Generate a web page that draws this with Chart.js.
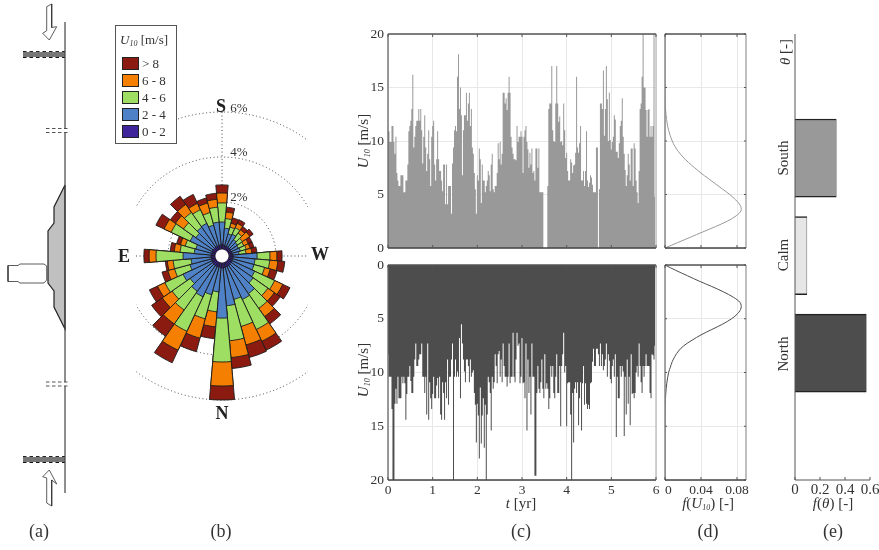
<!DOCTYPE html>
<html>
<head>
<meta charset="utf-8">
<style>
  html, body { margin: 0; padding: 0; background: #fff; }
  #page { position: relative; width: 879px; height: 550px; overflow: hidden; font-family: "Liberation Serif", serif; color: #333; }
  canvas { position: absolute; }
  .lab { position: absolute; transform: translate(-50%, -50%); white-space: nowrap; font-size: 15px; line-height: 1; }
  .rot { transform: translate(-50%, -50%) rotate(-90deg); }
  .dir { font-size: 18px; font-weight: bold; color: #222; }
  .pan { font-size: 18px; }
  .pct { font-size: 13px; }
  sub { font-size: 8px; vertical-align: -2px; line-height: 0; }
  #legend { position: absolute; left: 115px; top: 25px; width: 60px; height: 117px; border: 1px solid #555; background: #fff; }
  #legendInner { position: absolute; left: 0; top: 0; width: 60px; height: 117px; will-change: transform; }
  .sw { position: absolute; left: 6px; width: 15px; height: 11px; border: 1px solid #222; }
  .swt { position: absolute; left: 26px; font-size: 13px; line-height: 13px; }
</style>
</head>
<body>
<div id="page">
  <canvas id="coast" width="110" height="550" style="left:0;top:0"></canvas>
  <canvas id="rose" width="312" height="312" style="left:66px;top:100px"></canvas>
  <canvas id="southSeries"></canvas>
  <canvas id="northSeries"></canvas>
  <canvas id="southPdf"></canvas>
  <canvas id="northPdf"></canvas>
  <canvas id="thetaBars"></canvas>
  <div id="legend"><div id="legendInner"></div></div>
  <div id="labels"></div>
</div>
<script src="https://cdn.jsdelivr.net/npm/chart.js@4"></script>
<script>
// Wind rose, cumulative % per 10 degree sector, clockwise from the top (S)
const below2 = [.12,.08,.06,.07,.05,.06,.05,.05,.06,.1,.09,.08,.1,.09,.11,.12,.1,.12,.14,.1,.1,.12,.11,.1,.1,.08,.08,.09,.07,.06,.08,.07,.08,.08,.07,.08];
const below4 = [1.11,.84,.62,.67,.49,.44,.4,.44,.36,1.16,1.07,1.07,1.2,1.29,1.64,1.73,1.6,1.82,2.36,1.2,1.38,1.6,1.51,1.33,1.51,1.07,.98,1.33,.84,.8,1.16,1.02,1.16,1.2,1.02,1.11];
const below6 = [1.96,1.27,.93,.98,.84,.71,.67,.71,.67,1.73,1.73,1.56,2.18,2.09,2.44,3.2,2.84,3.38,4.31,2.09,2.49,3.29,2.53,2.31,2.4,1.78,1.78,2.53,1.47,1.29,2.09,1.69,1.96,1.87,1.6,1.78];
const below8 = [2.4,1.56,1.11,1.2,1.02,1.11,.89,.89,.93,2.04,2.09,1.82,2.58,2.44,2.89,3.78,3.69,4.13,5.38,2.76,3.38,4.22,3.29,2.84,2.76,2.09,2.04,2.84,1.73,1.51,2.44,2.13,2.4,2.18,2.04,2.13];
const allSpeeds = [2.76,1.78,1.36,1.38,1.2,1.29,1.07,1.07,1.16,2.27,2.4,2.13,2.93,2.76,3.29,4.22,4.27,4.62,6,3.29,4,4.84,3.96,3.42,3.16,2.36,2.13,3.07,1.91,1.69,2.84,2.4,2.84,2.62,2.27,2.4];
const holeValue = -0.13;
const ringValues = [2, 4, 6];
const windBands = ["> 8", "6 - 8", "4 - 6", "2 - 4", "0 - 2"];
const bandColors = ["#8b1a10", "#f57f00", "#9edf63", "#4f81c7", "#3f249c"];

// Wind speed series, one value per pixel column, 45 values per year
const southSpeed = [
  10.9,10.9,9.9,9.9,11.4,11.4,9.9,8.8,10.4,7.0,
  6.3,5.8,5.8,6.8,6.8,6.8,5.2,5.2,6.3,6.3,
  7.8,10.9,11.4,11.9,13,16.2,9.4,10.4,11.4,11.9,
  11.9,13,11.9,13,11,7.9,10.4,12.4,9.4,7.2,
  8.8,11,8.3,5.8,10.4,11.4,11.9,7.8,6.3,8.3,
  10.9,8.3,7.2,7.2,6.3,5.3,7.8,7.8,4.1,7.8,
  4.1,5.8,5.8,5.8,3.2,7.9,9.4,11,11.4,10.9,
  16,18.1,13,15,12.4,6.8,11,12.4,12.4,14.5,
  11.9,13.5,14.5,11.4,13,9.4,8.8,7.0,5.5,3.2,
  6.8,6.3,9.3,8.3,4.2,7.8,6.3,6.3,5.2,5.8,
  6.3,7.2,6.8,5.3,7.8,8.8,5.5,5.2,5.8,5.8,
  7.0,9.8,8.3,9.9,7.8,8.8,14.5,14.5,13.5,14,
  12.9,14.5,16,14.5,10.4,9.4,8.8,8.3,8.3,8.2,
  11.4,9.9,10.4,10.4,10.9,10.4,7,10.4,11,11.4,
  9.9,9.2,7.5,8.9,7.8,9.3,7.0,7.2,6.3,9.3,
  9.3,7.5,9.3,5.2,5.2,5.2,5.2,0,0,0,
  0,5.8,13,13.5,13.5,17,11,10,9.9,13.5,
  17,13.5,11.8,12.3,9.9,10,9.6,13.5,11,8.4,
  8.9,7.2,6.3,6.3,8.3,8.0,7,7.7,7.8,8.9,
  16,9.4,8.9,9.8,11.4,6.3,6.3,7.2,5.8,7.2,
  10.9,6.3,5.7,6.1,6.8,6.6,5.9,5.2,5.2,5.2,
  9.4,9.4,0,5.5,13.5,13.5,13,16.6,10.5,13,
  17,13.9,10,14.5,10.1,9.2,9.9,10.4,12.4,12,
  9,9,8.4,9.8,11.4,11.9,14,10.4,8.8,7.3,
  5.8,6.8,8.8,7.8,6.3,9.3,9.3,5.8,9.8,9.3,
  6.3,5.2,4.2,7.2,13,13.5,16,20,15,15,
  12.9,10.4,12.9,13,10.4,11.4,10.4,11.4,20,4.8
];
const northSpeed = [
  8.3,10.4,10.4,10.4,13.4,20,20,12.9,11.5,12.9,
  10.4,12.4,12.4,12.4,10.4,11,10.4,11,14.4,12,
  10.4,10.4,9.4,10.8,11.9,11.9,10.4,8.8,7.3,9.4,
  9.4,8.8,8.3,8.3,7.3,10.4,10.4,11.9,10.4,13.9,
  7.3,14.4,10.9,12.4,13.4,12,10.4,12.4,12.4,11.2,
  10.5,12.4,10.4,13.9,14.4,10.9,11.9,14.4,10.9,12.4,
  8.8,13,10.4,10.4,8.8,7.3,20,10.4,8.8,10.4,
  9.9,10.4,6.8,12.4,5.5,7.3,8.8,9.9,10.9,8.8,
  8.8,9.4,10.9,8.8,10.4,10,9.8,11.9,13,16.5,
  12.9,14,18,11.4,16.6,14,12.4,17,13,20,
  13.9,10.4,10.9,11.9,15.4,10.4,11.5,10.9,8.3,9.4,
  11.0,8.3,8.0,10.4,8.8,10.9,7.3,9.4,10.4,10.4,
  11.3,10.4,7.3,11,10.4,10.4,6.3,10.4,10.9,8.8,
  6.3,7.5,7.3,11,10.4,6.8,11,10.9,12.4,7.3,
  15.4,8.8,11.9,10.4,13.9,7.3,10.4,10.4,19.6,19.6,
  11.9,9.4,11.5,11.9,10.9,8.8,11.5,12.4,8.3,11.5,
  11.0,11.5,13.4,12.4,9.4,10.4,9.4,11.9,12.4,10.4,
  8.3,11.9,11.9,9.4,15,9.4,8.3,6.3,10,9.4,
  15,11,10.9,10.9,13.9,20,11.9,16.5,11.5,10.9,
  11.9,10.9,14.9,12.4,10.9,15.4,11,9.4,13,11,
  12.9,13.4,13,13.4,11,10.9,9,7.8,9.4,9.4,
  7.8,7.8,8.3,9.4,7.3,9.4,8.3,9.8,9.4,8.8,
  7.3,10.4,8.3,8.9,10.6,11,9.4,8.8,10.4,8.3,
  16,10.4,12.4,12.4,9.4,10.4,9.4,9.9,15.9,10.4,
  13.9,8.8,12.9,10.4,14.9,8.3,12,11.9,12.4,11.9,
  10,9.4,10.4,7.3,9.4,10.9,11.9,9.4,10.4,9.4,
  8.3,9.4,9.4,9.4,11.9,12.4,8.3,8.4,8.8,7.5
];
const samplesPerYear = 45;

// Probability density of the wind speed
const pdfSpeed = [0,.5,1,1.5,2,2.5,3,3.5,4,4.5,5,5.5,6,6.5,7,7.5,8,8.5,9,9.5,10,11,12,13,14,15,20];
const southPdfValues = [0,.014,.028,.042,.056,.069,.079,.0845,.0835,.0785,.072,.064,.056,.048,.04,.033,.026,.02,.015,.011,.008,.004,.0018,.0006,.0002,0,0];
const northPdfValues = [0,.012,.025,.038,.052,.065,.076,.0835,.0845,.081,.074,.064,.052,.04,.03,.021,.015,.011,.008,.006,.004,.002,.0008,.0003,.0001,0,0];

// Share of wind direction
const thetaCategories = ["South", "Calm", "North"];
const thetaRows = [1, 2, 3];
const thetaShare = [0.33, 0.095, 0.57];
const thetaColors = ["#999999", "#e6e6e6", "#4d4d4d"];

// Coastline sketch outlines
const coastSegments = [
  [[65,22],[65,129]], [[65,133],[65,382]], [[65,386],[65,493]]
];
const breakDashes = [
  [[46,128.5],[68,128.5]], [[46,132.5],[68,132.5]], [[46,382],[68,382]], [[46,386],[68,386]]
];
const jettyLines = [[[23,54.5],[65,54.5]], [[23,459.5],[65,459.5]]];
const shoalOutline = [[65,185],[54,207],[54,223],[48,231],[48,283],[54,291],[54,307],[65,329],[65,185]];
const harbourOutline = [[8,265.5],[8,281.5],[18,281.5],[20,283],[44,283],[46.7,280],[46.7,266],[44,264],[20,264],[18,265.5],[8,265.5]];
const arrowOutlines = [
  [[46.7,6.7],[51.7,4],[51.7,27.5],[56.7,26.7],[49.3,40],[42.7,33.3],[46.7,30.7],[46.7,6.7]],
  [[49.3,470],[56.7,484],[51.7,480],[51.7,506],[46.7,503],[46.7,478],[42.7,476.7],[49.3,470]]
];

Chart.defaults.animation = false;
Chart.defaults.responsive = false;
Chart.defaults.font.family = '"Liberation Serif", serif';
Chart.defaults.font.size = 13.5;
Chart.defaults.color = "#333";
Chart.defaults.plugins.legend.display = false;
Chart.defaults.plugins.tooltip.enabled = false;

const framePlugin = {
  id: "frame",
  afterDatasetsDraw(chart, args, opts) {
    const a = chart.chartArea;
    const c = chart.ctx;
    c.save();
    c.lineWidth = opts.width || 1.3;
    const line = (col, x1, y1, x2, y2) => {
      if (!col) return;
      c.strokeStyle = col;
      c.beginPath();
      c.moveTo(x1, y1);
      c.lineTo(x2, y2);
      c.stroke();
    };
    line(opts.left, a.left, a.top, a.left, a.bottom);
    line(opts.right, a.right, a.top, a.right, a.bottom);
    line(opts.top, a.left, a.top, a.right, a.top);
    line(opts.bottom, a.left, a.bottom, a.right, a.bottom);
    c.lineWidth = 1;
    // small inward tick marks
    chart.scales.x.ticks.forEach(t => {
      const x = chart.scales.x.getPixelForValue(t.value);
      if (opts.top) line("#555", x, a.top, x, a.top + 3);
      line("#555", x, a.bottom, x, a.bottom - 3);
    });
    if (opts.yTicks) {
      chart.scales.y.ticks.forEach(t => {
        const y = chart.scales.y.getPixelForValue(t.value);
        line("#555", a.left, y, a.left + 2, y);
        line("#555", a.right, y, a.right - 2, y);
      });
    }
    c.restore();
  },
};

const ringPlugin = {
  id: "rings",
  beforeDatasetsDraw(chart) {
    const s = chart.scales.r;
    const c = chart.ctx;
    const halfClip = 86;
    c.save();
    c.strokeStyle = "#444";
    c.lineWidth = 1;
    c.setLineDash([1, 2.6]);
    c.beginPath();
    c.rect(s.xCenter - halfClip, 0, halfClip * 2, chart.height);
    c.clip();
    ringValues.forEach(v => {
      c.beginPath();
      c.arc(s.xCenter, s.yCenter, s.getDistanceFromCenterForValue(v), 0, Math.PI * 2);
      c.stroke();
    });
    const outer = s.getDistanceFromCenterForValue(6);
    c.beginPath();
    c.moveTo(s.xCenter, s.yCenter - outer);
    c.lineTo(s.xCenter, s.yCenter);
    c.moveTo(s.xCenter - halfClip, s.yCenter);
    c.lineTo(s.xCenter + halfClip, s.yCenter);
    c.stroke();
    c.restore();
  },
};

function placeCanvas(id, box) {
  const el = document.getElementById(id);
  el.width = box.ml + box.w + box.mr;
  el.height = box.mt + box.h + box.mb;
  el.style.left = box.x - box.ml + "px";
  el.style.top = box.y - box.mt + "px";
  return el;
}

function fixWidth(w) {
  return s => { s.width = w; s.paddingTop = 0; s.paddingBottom = 0; };
}

function fixHeight(h) {
  return s => { s.height = h; s.paddingLeft = 0; s.paddingRight = 0; };
}

function seriesChart(id, box, values, color, reversed, showX) {
  new Chart(placeCanvas(id, box), {
    type: "scatter",
    data: {
      datasets: [{
        data: values.map((v, i) => ({ x: i / samplesPerYear, y: v })),
        showLine: true,
        stepped: "middle",
        pointRadius: 0,
        borderWidth: 0,
        borderColor: color,
        backgroundColor: color,
        fill: "origin",
      }],
    },
    options: {
      layout: { padding: { top: box.mt, right: box.mr } },
      scales: {
        x: {
          type: "linear", min: 0, max: 6,
          ticks: { stepSize: 1, display: showX, maxRotation: 0, autoSkip: false, padding: 2 },
          grid: { color: "#e8e8e8", drawTicks: false },
          border: { display: false },
          afterFit: fixHeight(box.mb),
        },
        y: {
          type: "linear", min: 0, max: 20, reverse: reversed,
          ticks: { stepSize: 5, padding: 4 },
          grid: { color: "#e8e8e8", drawTicks: false },
          border: { display: false },
          afterFit: fixWidth(box.ml),
        },
      },
      plugins: {
        frame: { top: "#555", bottom: "#444", left: "#666", right: "#bbb" },
      },
    },
    plugins: [framePlugin],
  });
}

function pdfChart(id, box, values, color, reversed, showX) {
  new Chart(placeCanvas(id, box), {
    type: "scatter",
    data: {
      datasets: [{
        data: pdfSpeed.map((u, i) => ({ x: values[i], y: u })),
        showLine: true,
        tension: 0.35,
        pointRadius: 0,
        borderWidth: 1,
        borderColor: color,
      }],
    },
    options: {
      layout: { padding: { top: box.mt, right: box.mr } },
      scales: {
        x: {
          type: "linear", min: 0, max: 0.09,
          ticks: {
            stepSize: 0.04, includeBounds: false, display: showX, maxRotation: 0, autoSkip: false, padding: 2,
            callback: v => (v === 0 ? "  0" : v.toFixed(2)),
          },
          grid: { color: "#e8e8e8", drawTicks: false },
          border: { display: false },
          afterFit: fixHeight(box.mb),
        },
        y: {
          type: "linear", min: 0, max: 20, reverse: reversed,
          ticks: { stepSize: 5, display: false },
          grid: { color: "#e8e8e8", drawTicks: false },
          border: { display: false },
          afterFit: fixWidth(box.ml),
        },
      },
      plugins: {
        frame: { top: "#555", bottom: "#444", left: "#888", right: "#aaa", yTicks: true, width: 1.5 },
      },
    },
    plugins: [framePlugin],
  });
}

// (a) coastline sketch, axes run in page pixels, first dataset ends up on top
const sketchLine = (pts, color, width, extra) => Object.assign({
  data: pts.map(p => ({ x: p[0], y: p[1] })),
  showLine: true, pointRadius: 0, borderColor: color, borderWidth: width, tension: 0,
}, extra || {});

new Chart(document.getElementById("coast"), {
  type: "scatter",
  data: {
    datasets: [
      ...coastSegments.map(p => sketchLine(p, "#444", 1.2)),
      ...breakDashes.map(p => sketchLine(p, "#555", 1, { borderDash: [3.5, 2.5] })),
      ...jettyLines.map(p => sketchLine(p.map(q => [q[0], q[1] - 3]), "#222", 1, { borderDash: [3.5, 3] })),
      ...jettyLines.map(p => sketchLine(p.map(q => [q[0], q[1] + 3]), "#111", 1, { borderDash: [3.5, 3] })),
      ...jettyLines.map(p => sketchLine(p, "#777", 5)),
      sketchLine(shoalOutline, "#222", 1.2, { fill: "shape", backgroundColor: "#c0c0c0" }),
      sketchLine(harbourOutline, "#333", 0.8, { fill: "shape", backgroundColor: "#fff" }),
      ...arrowOutlines.map(p => sketchLine(p, "#333", 0.8, { fill: "shape", backgroundColor: "#fff" })),
    ],
  },
  options: {
    layout: { padding: 0 },
    clip: false,
    scales: {
      x: { type: "linear", min: 0, max: 110, display: false },
      y: { type: "linear", min: 0, max: 550, reverse: true, display: false },
    },
  },
});

// (b) wind rose, the sectors overlap from the longest to the shortest
const sectors = allSpeeds.map((v, i) => i * 10);
const roseLayer = (values, color, width, edge) => ({
  data: values, backgroundColor: color, borderColor: edge || "#1c1c1c", borderWidth: width,
});
new Chart(document.getElementById("rose"), {
  type: "polarArea",
  data: {
    labels: sectors,
    datasets: [
      roseLayer(allSpeeds.map(() => holeValue), "#fff", 1, "#fff"),
      roseLayer(below2, bandColors[4], 0.8),
      roseLayer(below4, bandColors[3], 0.9),
      roseLayer(below6, bandColors[2], 0.9),
      roseLayer(below8, bandColors[1], 0.9),
      roseLayer(allSpeeds, bandColors[0], 0.9),
    ],
  },
  options: {
    layout: { padding: 0 },
    scales: {
      r: {
        min: -0.4, max: 6.533, startAngle: -5,
        ticks: { display: false },
        grid: { display: false },
        angleLines: { display: false },
        pointLabels: { display: false },
      },
    },
  },
  plugins: [ringPlugin],
});

// (c) and (d)
seriesChart("southSeries", { x: 387.5, y: 34, w: 268.5, h: 214, ml: 36, mr: 4, mt: 8, mb: 4 }, southSpeed, "#999999", false, false);
seriesChart("northSeries", { x: 387.5, y: 265, w: 268.5, h: 215, ml: 36, mr: 6, mt: 8, mb: 18 }, northSpeed, "#4d4d4d", true, true);
pdfChart("southPdf", { x: 664.5, y: 34, w: 81.5, h: 214, ml: 1, mr: 4, mt: 4, mb: 4 }, southPdfValues, "#999999", false, false);
pdfChart("northPdf", { x: 664.5, y: 265, w: 81.5, h: 215, ml: 8, mr: 14, mt: 4, mb: 18 }, northPdfValues, "#4d4d4d", true, true);

// (e) direction shares
const eBox = { x: 795, y: 34, w: 75, h: 446, ml: 22, mr: 10, mt: 4, mb: 18 };
new Chart(placeCanvas("thetaBars", eBox), {
  type: "bar",
  data: {
    labels: thetaCategories,
    datasets: [{
      data: thetaRows.map((r, i) => ({ y: r, x: thetaShare[i] })),
      backgroundColor: thetaColors,
      borderColor: "#222",
      borderWidth: { top: 1.4, bottom: 1.4, left: 0, right: 0.5 },
      borderSkipped: false,
      barThickness: 78,
    }],
  },
  options: {
    indexAxis: "y",
    layout: { padding: { top: eBox.mt, right: eBox.mr } },
    scales: {
      x: {
        type: "linear", min: 0, max: 0.6,
        ticks: { stepSize: 0.2, maxRotation: 0, autoSkip: false, padding: 1, font: { size: 15 }, callback: v => (v === 0 ? "0" : v.toFixed(1)) },
        grid: { display: false, drawTicks: false },
        border: { display: false },
        afterFit: fixHeight(eBox.mb),
      },
      y: {
        type: "linear", min: -0.272, max: 4.3, reverse: true, offset: false,
        afterBuildTicks: s => { s.ticks = thetaRows.map(v => ({ value: v })); },
        ticks: { display: false },
        grid: { display: false, drawTicks: false },
        border: { display: false },
        afterFit: fixWidth(eBox.ml),
      },
    },
    plugins: { frame: { left: "#555", bottom: "#555", width: 1 } },
  },
  plugins: [framePlugin],
});

// Legend and text
let legendHtml = '<div class="swt" style="left:4px;top:7px;white-space:nowrap"><i>U<sub>10</sub></i> [m/s]</div>';
windBands.forEach((b, i) => {
  const top = 31 + i * 17;
  legendHtml += '<div class="sw" style="top:' + top + 'px;background:' + bandColors[i] + '"></div>';
  legendHtml += '<div class="swt" style="top:' + top + 'px">' + b + "</div>";
});
document.getElementById("legendInner").innerHTML = legendHtml;

const pageLabels = [
  ["(a)", 39, 531, "pan"], ["(b)", 221, 531, "pan"], ["(c)", 521, 531, "pan"], ["(d)", 708, 531, "pan"], ["(e)", 833, 531, "pan"],
  ["S", 221, 106, "dir"], ["N", 222, 413, "dir"], ["E", 124, 256, "dir"], ["W", 320, 254, "dir"],
  ["6%", 239, 107, "pct"], ["4%", 239, 151, "pct"], ["2%", 239, 196, "pct"],
  ["<i>U<sub>10</sub></i> [m/s]", 363, 141, "rot"], ["<i>U<sub>10</sub></i> [m/s]", 363, 370, "rot"],
  ["<i>t</i> [yr]", 521, 503, ""], ["<i>f</i>(<i>U<sub>10</sub></i>) [-]", 708, 503, ""], ["<i>f</i>(<i>θ</i>) [-]", 833, 503, ""],
  ["<i>θ</i> [-]", 785, 52, "rot"],
  [thetaCategories[0], 783, 158, "rot"], [thetaCategories[1], 783, 255, "rot"], [thetaCategories[2], 783, 354, "rot"],
];
document.getElementById("labels").innerHTML = pageLabels.map(l =>
  '<div class="lab ' + l[3] + '" style="left:' + l[1] + "px;top:" + l[2] + 'px">' + l[0] + "</div>"
).join("");
</script>
</body>
</html>
